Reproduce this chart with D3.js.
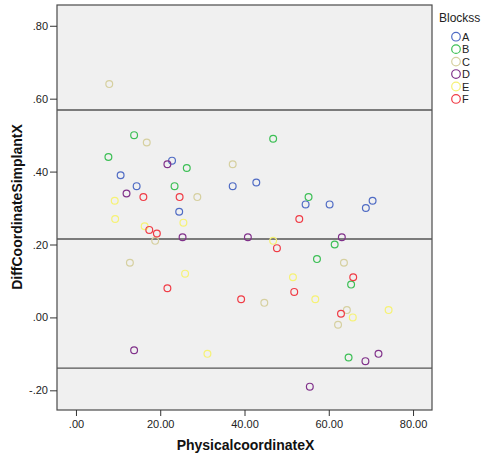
<!DOCTYPE html>
<html>
<head>
<meta charset="utf-8">
<script src="https://cdn.jsdelivr.net/npm/d3@7"></script>
<style>
  html, body { margin: 0; padding: 0; background: #ffffff; }
  svg { display: block; font-family: Arial, "Liberation Sans", sans-serif; }
</style>
</head>
<body>
<svg id="chart" width="483" height="457"></svg>
<script>
// Blocks and their marker colours
const blocks = ["A", "B", "C", "D", "E", "F"];
const blockColors = ["#4f6bc4", "#3cbf55", "#d6d0a0", "#80318a", "#f6f275", "#f03c46"];

// Physical coordinate X and coordinate difference, one array pair per block
const xA = [10.6, 14.4, 22.8, 24.5, 37.2, 42.8, 54.5, 60.2, 68.8, 70.4];
const yA = [0.39, 0.36, 0.43, 0.29, 0.36, 0.37, 0.31, 0.31, 0.30, 0.32];
const xB = [7.7, 13.8, 23.4, 26.3, 46.8, 55.2, 57.2, 61.4, 65.3, 64.7];
const yB = [0.44, 0.50, 0.36, 0.41, 0.49, 0.33, 0.16, 0.20, 0.09, -0.11];
const xC = [7.9, 16.8, 37.2, 28.8, 18.8, 12.8, 63.6, 44.7, 64.3, 62.2];
const yC = [0.64, 0.48, 0.42, 0.33, 0.21, 0.15, 0.15, 0.04, 0.02, -0.02];
const xD = [21.7, 12.0, 25.3, 40.8, 63.1, 13.8, 71.8, 68.7, 55.5];
const yD = [0.42, 0.34, 0.22, 0.22, 0.22, -0.09, -0.10, -0.12, -0.19];
const xE = [9.2, 9.3, 25.5, 16.3, 46.8, 25.9, 51.5, 56.8, 74.2, 65.7, 31.2];
const yE = [0.32, 0.27, 0.26, 0.25, 0.21, 0.12, 0.11, 0.05, 0.02, 0.00, -0.10];
const xF = [16.0, 24.6, 53.0, 17.4, 19.2, 47.7, 65.8, 21.7, 51.8, 39.2, 62.9];
const yF = [0.33, 0.33, 0.27, 0.24, 0.23, 0.19, 0.11, 0.08, 0.07, 0.05, 0.01];

// Mean difference and limits of agreement
const refLines = [0.569, 0.215, -0.139];

// Tick values and labels
const xTicks = [0, 20, 40, 60, 80];
const xTickLabels = [".00", "20.00", "40.00", "60.00", "80.00"];
const yTicks = [0.8, 0.6, 0.4, 0.2, 0, -0.2];
const yTickLabels = [".80", ".60", ".40", ".20", ".00", "-.20"];

const seriesX = [xA, xB, xC, xD, xE, xF];
const seriesY = [yA, yB, yC, yD, yE, yF];
const points = [];
blocks.forEach((b, i) => {
  seriesX[i].forEach((x, j) => points.push({ block: b, x: x, y: seriesY[i][j] }));
});

const svg = d3.select("#chart");
const plot = { left: 57, right: 432, top: 5, bottom: 410 };

const x = d3.scaleLinear().domain([-4.5, 84.5]).range([plot.left, plot.right]);
const y = d3.scaleLinear().domain([-0.254, 0.857]).range([plot.bottom, plot.top]);
const color = d3.scaleOrdinal().domain(blocks).range(blockColors);

// Plot background and frame
svg.append("rect")
  .attr("x", plot.left).attr("y", plot.top)
  .attr("width", plot.right - plot.left).attr("height", plot.bottom - plot.top)
  .attr("fill", "#f0f0f0").attr("stroke", "#4a4a4a").attr("stroke-width", 1.2);

// Horizontal reference lines
svg.append("g").selectAll("line").data(refLines).join("line")
  .attr("x1", plot.left).attr("x2", plot.right)
  .attr("y1", d => y(d)).attr("y2", d => y(d))
  .attr("stroke", "#555555").attr("stroke-width", 1.4);

// Axes
const xAxis = d3.axisBottom(x).tickValues(xTicks)
  .tickFormat((d, i) => xTickLabels[i]).tickSizeOuter(0).tickSize(6).tickPadding(4);
const yAxis = d3.axisLeft(y).tickValues(yTicks)
  .tickFormat((d, i) => yTickLabels[i]).tickSizeOuter(0).tickSize(7).tickPadding(2);

const gx = svg.append("g").attr("transform", `translate(0,${plot.bottom})`).call(xAxis);
const gy = svg.append("g").attr("transform", `translate(${plot.left},0)`).call(yAxis);
[gx, gy].forEach(g => {
  g.select(".domain").remove();
  g.selectAll(".tick line").attr("stroke", "#333333");
  g.selectAll(".tick text").attr("fill", "#222222").style("font-size", "11px")
    .style("font-family", "Arial, 'Liberation Sans', sans-serif");
});

// Axis titles
svg.append("text")
  .attr("x", (plot.left + plot.right) / 2 + 1).attr("y", 450)
  .attr("text-anchor", "middle")
  .style("font-size", "14px").style("font-weight", "bold").attr("fill", "#111111")
  .text("PhysicalcoordinateX");

svg.append("text")
  .attr("transform", `translate(22,${207}) rotate(-90)`)
  .attr("text-anchor", "middle")
  .style("font-size", "14px").style("font-weight", "bold").attr("fill", "#111111")
  .text("DiffCoordinateSimplantX");

// Points
svg.append("g").selectAll("circle").data(points).join("circle")
  .attr("cx", d => x(d.x)).attr("cy", d => y(d.y)).attr("r", 3.4)
  .attr("fill", "none").attr("stroke", d => color(d.block)).attr("stroke-width", 1.2);

// Legend
const legend = svg.append("g");
legend.append("text").attr("x", 439).attr("y", 22)
  .style("font-size", "12px").attr("fill", "#222222").text("Blockss");
const item = legend.selectAll("g.item").data(blocks).join("g")
  .attr("class", "item")
  .attr("transform", (d, i) => `translate(456,${36.7 + i * 12.45})`);
item.append("circle").attr("r", 4.3)
  .attr("fill", "none").attr("stroke", d => color(d)).attr("stroke-width", 1.2);
item.append("text").attr("x", 6).attr("y", 4)
  .style("font-size", "11px").attr("fill", "#222222").text(d => d);
</script>
</body>
</html>
